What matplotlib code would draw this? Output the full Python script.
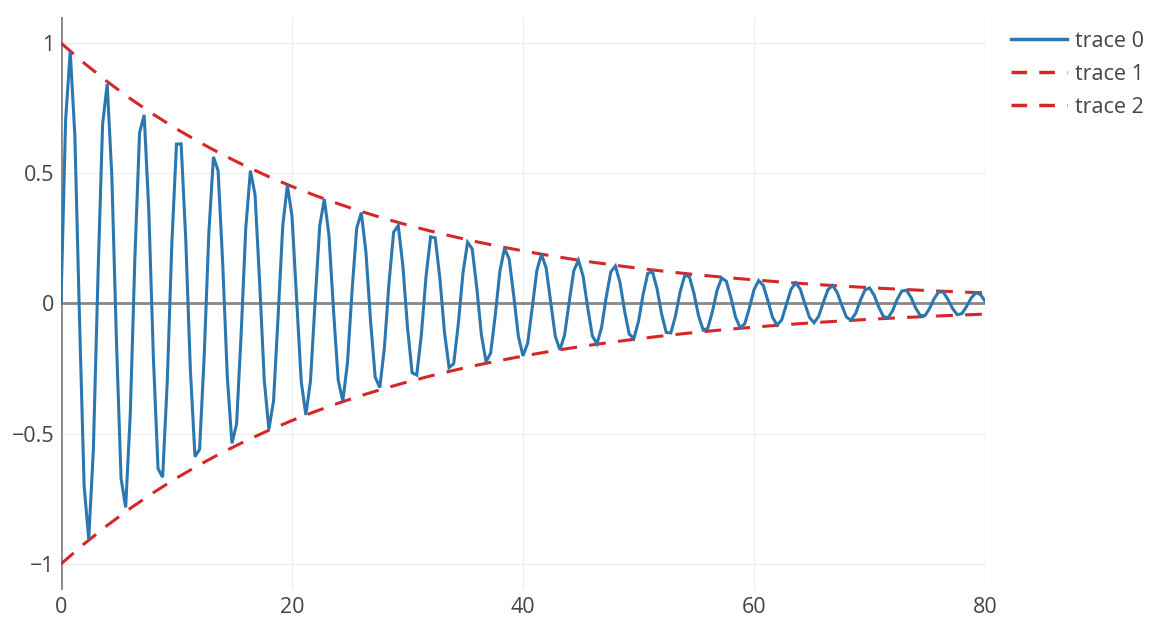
import numpy as np
import matplotlib
matplotlib.use("Agg")
import matplotlib.pyplot as plt
from matplotlib.lines import Line2D

# ---- data ----
x_start, x_end, n_points = 0.0, 80.0, 201
trace0_y = [
    0.000, 0.706, 0.968, 0.644, -0.055, -0.699, -0.905, -0.564, 0.103, 0.687,
    0.843, 0.491, -0.144, -0.672, -0.783, -0.422, 0.179, 0.655, 0.724, 0.359,
    -0.209, -0.634, -0.667, -0.301, 0.234, 0.612, 0.613, 0.248, -0.254, -0.588,
    -0.560, -0.199, 0.270, 0.563, 0.510, 0.155, -0.282, -0.537, -0.463, -0.115,
    0.291, 0.510, 0.418, 0.079, -0.296, -0.483, -0.375, -0.047, 0.299, 0.455,
    0.335, 0.018, -0.300, -0.428, -0.297, 0.007, 0.298, 0.401, 0.262, -0.030,
    -0.294, -0.375, -0.229, 0.049, 0.289, 0.349, 0.198, -0.066, -0.282, -0.323,
    -0.170, 0.080, 0.274, 0.299, 0.144, -0.092, -0.266, -0.275, -0.120, 0.102,
    0.256, 0.252, 0.098, -0.110, -0.246, -0.231, -0.078, 0.116, 0.235, 0.210,
    0.060, -0.121, -0.224, -0.190, -0.044, 0.124, 0.212, 0.171, 0.029, -0.126,
    -0.201, -0.153, -0.016, 0.127, 0.189, 0.137, 0.004, -0.127, -0.178, -0.121,
    0.006, 0.126, 0.166, 0.106, -0.015, -0.124, -0.155, -0.093, 0.023, 0.121,
    0.144, 0.080, -0.030, -0.118, -0.134, -0.069, 0.035, 0.115, 0.123, 0.058,
    -0.040, -0.111, -0.113, -0.048, 0.044, 0.107, 0.104, 0.039, -0.047, -0.102,
    -0.095, -0.031, 0.050, 0.098, 0.086, 0.023, -0.052, -0.093, -0.078, -0.017,
    0.053, 0.088, 0.070, 0.011, -0.053, -0.083, -0.063, -0.005, 0.054, 0.079,
    0.056, 0.000, -0.053, -0.074, -0.049, 0.004, 0.053, 0.069, 0.043, -0.007,
    -0.052, -0.064, -0.038, 0.011, 0.051, 0.060, 0.032, -0.013, -0.050, -0.055,
    -0.028, 0.016, 0.048, 0.051, 0.023, -0.018, -0.046, -0.047, -0.019, 0.019,
    0.045, 0.043, 0.015, -0.020, -0.043, -0.039, -0.012, 0.021, 0.041, 0.035,
    0.009,
]
env_n_points = 41
trace1_y = [
    1.0000, 0.9231, 0.8521, 0.7866, 0.7261, 0.6703, 0.6188, 0.5712, 0.5273, 0.4867,
    0.4493, 0.4148, 0.3829, 0.3534, 0.3262, 0.3012, 0.2780, 0.2567, 0.2369, 0.2187,
    0.2019, 0.1864, 0.1720, 0.1588, 0.1466, 0.1353, 0.1249, 0.1153, 0.1064, 0.0982,
    0.0907, 0.0837, 0.0773, 0.0713, 0.0659, 0.0608, 0.0561, 0.0518, 0.0478, 0.0441,
    0.0408,
]
trace2_y = [
    -1.0000, -0.9231, -0.8521, -0.7866, -0.7261, -0.6703, -0.6188, -0.5712, -0.5273, -0.4867,
    -0.4493, -0.4148, -0.3829, -0.3534, -0.3262, -0.3012, -0.2780, -0.2567, -0.2369, -0.2187,
    -0.2019, -0.1864, -0.1720, -0.1588, -0.1466, -0.1353, -0.1249, -0.1153, -0.1064, -0.0982,
    -0.0907, -0.0837, -0.0773, -0.0713, -0.0659, -0.0608, -0.0561, -0.0518, -0.0478, -0.0441,
    -0.0408,
]
trace_names = ["trace 0", "trace 1", "trace 2"]
x_ticks = [0, 20, 40, 60, 80]
y_ticks = [-1, -0.5, 0, 0.5, 1]
y_tick_labels = ["\u22121", "\u22120.5", "0", "0.5", "1"]

x0 = np.linspace(x_start, x_end, n_points)
xe = np.linspace(x_start, x_end, env_n_points)

plt.rcParams["font.family"] = ["Open Sans", "DejaVu Sans"]

W, H = 1154, 623
fig = plt.figure(figsize=(W / 100, H / 100), dpi=100)
ax = fig.add_axes([61 / W, 1 - 590 / H, (985 - 61) / W, (590 - 17) / H])

blue = "#2b77b0"
red = "#d62728"
ax.plot(x0, trace0_y, color=blue, lw=2.2, solid_joinstyle="miter", zorder=4)
ax.plot(xe, trace1_y, color=red, lw=2.2, dashes=(5.5, 4), zorder=3)
ax.plot(xe, trace2_y, color=red, lw=2.2, dashes=(5.5, 4), zorder=3)

ax.set_xlim(0, 80)
ax.set_ylim(-1.1, 1.1)
ax.set_xticks(x_ticks)
ax.set_yticks(y_ticks)
ax.set_yticklabels(y_tick_labels)
for s in ax.spines.values():
    s.set_visible(False)
ax.grid(True, color="#eeeeee", lw=1.0, zorder=0)
ax.axhline(0, color="#888888", lw=2.0, zorder=2)
ax.axvline(0, color="#888888", lw=2.0, zorder=2)
ax.tick_params(length=0, labelsize=15.5, labelcolor="#444444")
ax.tick_params(axis="y", pad=5)
ax.tick_params(axis="x", pad=5)

handles = [
    Line2D([0], [0], color=blue, lw=2.5),
    Line2D([0], [0], color=red, lw=2.5, dashes=(4.5, 3.5)),
    Line2D([0], [0], color=red, lw=2.5, dashes=(4.5, 3.5)),
]
leg = fig.legend(handles, trace_names, loc="upper left",
                 bbox_to_anchor=(1011 / W, 1 - 31 / H), frameon=False,
                 fontsize=15.5, handlelength=2.6, handletextpad=0.35,
                 labelspacing=0.55, borderaxespad=0, borderpad=0)
for t in leg.get_texts():
    t.set_color("#444444")

fig.savefig("out.png", dpi=100)
